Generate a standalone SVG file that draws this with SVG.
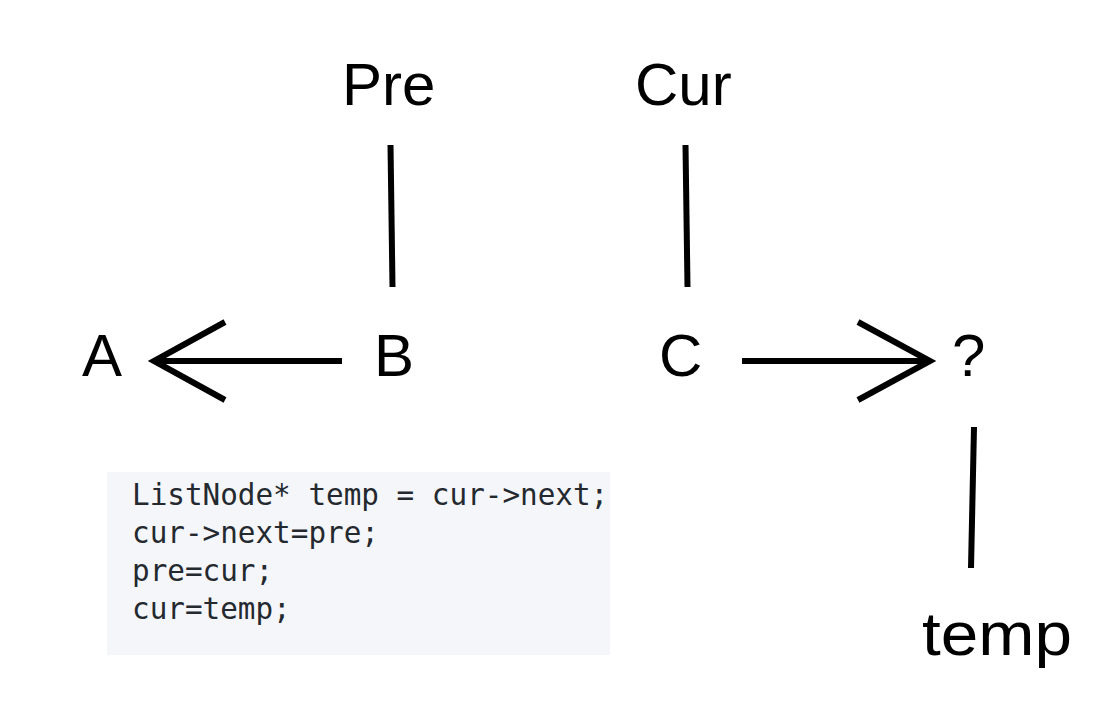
<svg xmlns="http://www.w3.org/2000/svg" width="1112" height="712" viewBox="0 0 1112 712">
<style>
.lbl{font-family:"Liberation Sans",Arial,sans-serif;font-size:60px;fill:#000}
.ln{stroke:#000;stroke-width:6;fill:none;stroke-linecap:butt}
.code{font-family:"DejaVu Sans Mono",monospace;font-size:29.3px;fill:#24292f}
</style>
<rect width="1112" height="712" fill="#fff"/>
<g id="pre"><text class="lbl" x="342" y="105">Pre</text></g>
<g id="cur"><text class="lbl" x="635" y="105">Cur</text></g>
<g id="A"><text class="lbl" x="82" y="376">A</text></g>
<g id="B"><text class="lbl" x="374" y="376">B</text></g>
<g id="C"><text class="lbl" x="659" y="376">C</text></g>
<g id="Q"><text class="lbl" x="952" y="376">?</text></g>
<g id="temp"><text class="lbl" x="922" y="655" style="font-size:62px" textLength="150" lengthAdjust="spacingAndGlyphs">temp</text></g>
<g id="code">
<rect x="107" y="472" width="503" height="183" fill="#f5f6fa"/>
<text class="code" x="132" y="505">ListNode* temp = cur-&gt;next;</text>
<text class="code" x="132" y="543">cur-&gt;next=pre;</text>
<text class="code" x="132" y="581">pre=cur;</text>
<text class="code" x="132" y="619">cur=temp;</text>
</g>
<g id="connectors">
<line class="ln" x1="390.5" y1="145" x2="392.5" y2="287"/>
<line class="ln" x1="685.5" y1="145" x2="687.5" y2="287"/>
<line class="ln" x1="974" y1="427" x2="971" y2="568"/>
<line class="ln" x1="342" y1="361" x2="156" y2="361"/>
<polyline class="ln" points="225,322 154,361 225,400"/>
<line class="ln" x1="742" y1="361" x2="928" y2="361"/>
<polyline class="ln" points="858,322 930,361 858,400"/>
</g>
</svg>
